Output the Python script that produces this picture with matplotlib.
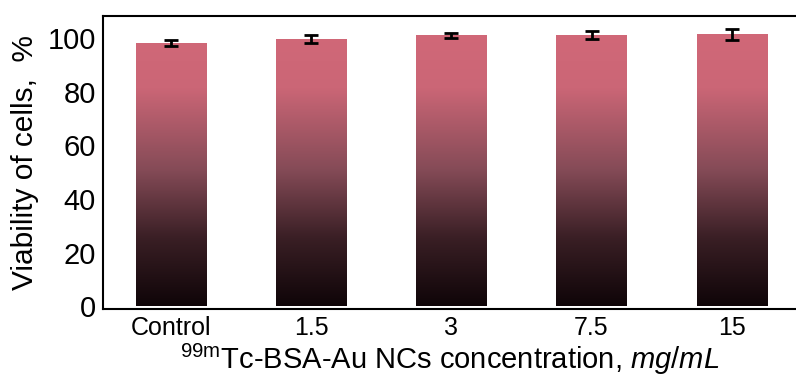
import numpy as np
import matplotlib
matplotlib.use('Agg')
import matplotlib.pyplot as plt
from matplotlib.colors import LinearSegmentedColormap

plt.rcParams['font.family'] = ['Liberation Sans', 'DejaVu Sans']
plt.rcParams['mathtext.fontset'] = 'custom'
plt.rcParams['mathtext.rm'] = 'Liberation Sans'
plt.rcParams['mathtext.it'] = 'Liberation Sans:italic'

categories = ['Control', '1.5', '3', '7.5', '15']
viability = [98.2, 99.6, 101.0, 101.1, 101.4]
errors = [1.2, 1.5, 1.0, 1.5, 2.0]

fig = plt.figure(figsize=(7.96, 3.79), dpi=100)
ax = fig.add_axes([0.129, 0.184, 0.871, 0.774])

x = np.arange(len(categories))
bars = ax.bar(x, viability, width=0.5, color='none', edgecolor='none', zorder=2)

cmap = LinearSegmentedColormap.from_list(
    'bar', [(0.0, '#0f0508'), (0.25, '#3a1f25'), (0.5, '#854b57'),
            (0.8, '#cb6676'), (1.0, '#d16878')])
grad = np.linspace(0, 1, 256).reshape(-1, 1)
for b in bars:
    im = ax.imshow(grad, cmap=cmap, origin='lower', aspect='auto',
                   extent=(b.get_x(), b.get_x() + b.get_width(), 0, 101.5),
                   zorder=2)
    im.set_clip_path(b)

ax.errorbar(x, viability, yerr=errors, fmt='none', ecolor='black',
            elinewidth=2, capsize=5, capthick=2, zorder=3)

ax.set_xlim(-0.49, 4.46)
ax.set_ylim(-1.1, 108.2)
ax.set_xticks(x)
ax.set_xticklabels(categories)
ax.set_yticks([0, 20, 40, 60, 80, 100])
ax.tick_params(length=0, pad=5)
ax.tick_params(axis='x', labelsize=18, pad=5)
ax.tick_params(axis='y', labelsize=21)
for s in ['left', 'top', 'bottom']:
    ax.spines[s].set_linewidth(1.5)
ax.spines['right'].set_visible(False)

ax.set_ylabel('Viability of cells,  %', fontsize=21.5, labelpad=6)
ax.set_xlabel(r'$^{\mathrm{99m}}$Tc-BSA-Au NCs concentration, $\mathit{mg/mL}$',
              fontsize=21, labelpad=1)

fig.savefig('out.png', dpi=100)
